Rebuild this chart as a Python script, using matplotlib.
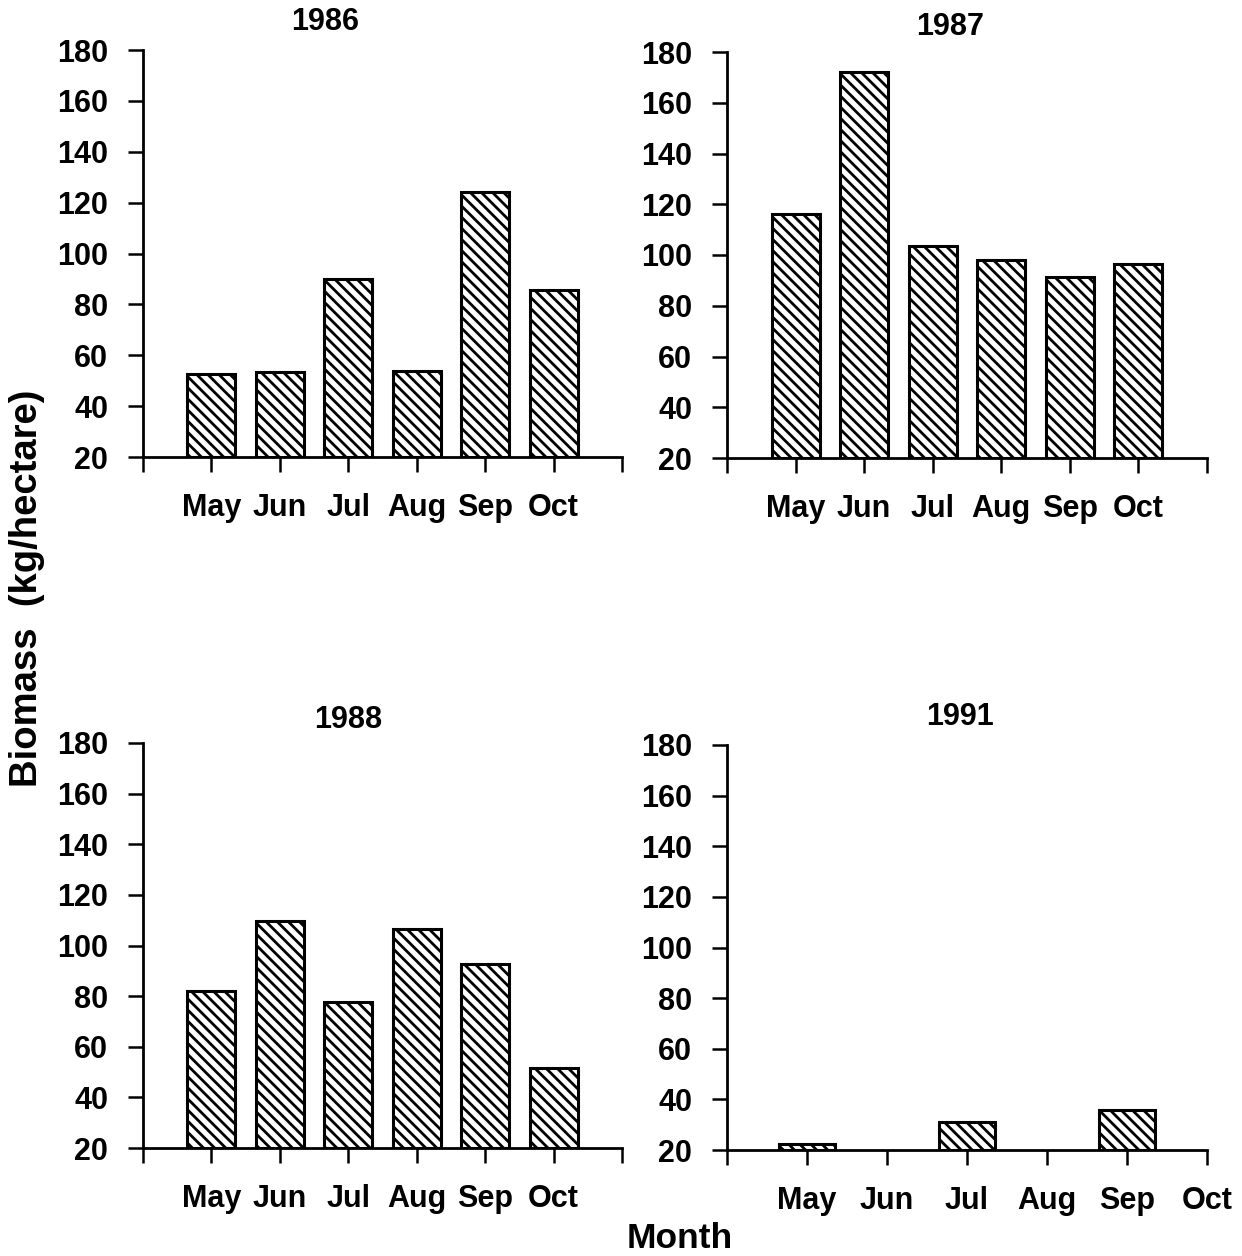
import numpy as np
import matplotlib
matplotlib.use("Agg")
import matplotlib.pyplot as plt

plt.rcParams['font.family'] = ['Liberation Sans', 'DejaVu Sans']
plt.rcParams['font.weight'] = 'bold'
plt.rcParams['hatch.linewidth'] = 2.0

months = ["May", "Jun", "Jul", "Aug", "Sep", "Oct"]
years = ["1986", "1987", "1988", "1991"]
biomass_1986 = [52.5, 53.5, 90, 54, 124, 85.5]
biomass_1987 = [116, 172, 103.5, 98, 91.5, 96.5]
biomass_1988 = [82, 109.5, 77.5, 106.5, 92.5, 51.5]
biomass_1991 = [22.3, None, 31, None, 35.8, None]
yticks = [20, 40, 60, 80, 100, 120, 140, 160, 180]

W, H = 1242, 1256
fig = plt.figure(figsize=(W / 100, H / 100), dpi=100)

def px_axes(left, right, top, bottom):
    return fig.add_axes([left / W, 1 - bottom / H, (right - left) / W, (bottom - top) / H])

panels = [
    (biomass_1986, (143, 622, 50, 457), 7, (325, 22)),
    (biomass_1987, (727, 1207, 52, 458), 7, (950, 27)),
    (biomass_1988, (143, 622, 743, 1148), 7, (348, 720)),
    (biomass_1991, (727, 1207, 745, 1150), 6, (960, 717)),
]

for (vals, box, nint, tpos), year in zip(panels, years):
    ax = px_axes(*box)
    pos = np.arange(1, len(months) + 1)
    xs = [p for p, v in zip(pos, vals) if v is not None]
    hs = [v - 20 for v in vals if v is not None]
    ax.bar(xs, hs, bottom=20, width=0.7, facecolor='white', edgecolor='black',
           linewidth=2.2, hatch='\\\\\\', zorder=2)
    ax.set_xlim(0, nint)
    ax.set_ylim(20, 180)
    ax.set_yticks(yticks)
    ax.set_yticklabels([str(t) for t in yticks])
    ax.set_xticks(np.arange(0, nint + 1))
    labels = [""] + months + [""] * (nint - len(months))
    ax.set_xticklabels(labels)
    for s in ['top', 'right']:
        ax.spines[s].set_visible(False)
    for s in ['left', 'bottom']:
        ax.spines[s].set_linewidth(2.0)
    ax.tick_params(axis='both', direction='out', length=11, width=1.8, color='black')
    ax.tick_params(axis='x', pad=15, labelsize=22)
    ax.tick_params(axis='y', pad=14, labelsize=22)
    for lab in ax.get_xticklabels() + ax.get_yticklabels():
        lab.set_fontweight('bold')
    ax.patch.set_visible(False)
    fig.text(tpos[0] / W, 1 - tpos[1] / H, year, ha='center', va='center',
             fontsize=22, fontweight='bold')

fig.text(680 / W, 1 - 1238 / H, "Month", ha='center', va='center', fontsize=25.5, fontweight='bold')
fig.text(27 / W, 1 - 588 / H, "Biomass  (kg/hectare)", ha='center', va='center',
         rotation=90, fontsize=27.5, fontweight='bold')

fig.savefig("out.png", dpi=100)
